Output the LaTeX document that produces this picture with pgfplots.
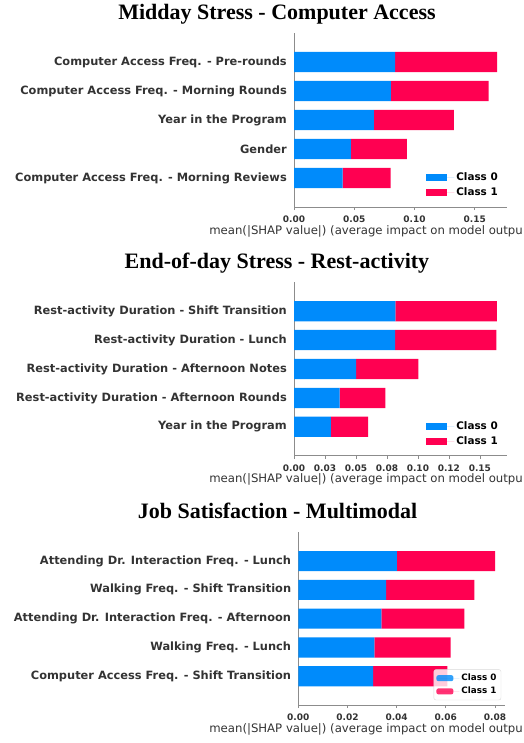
\documentclass[border=0pt]{standalone}
\usepackage{fontspec}
\setmainfont{DejaVu Sans}
\newfontfamily\titlefont{Liberation Serif}
\usepackage{pgfplots}
\pgfplotsset{compat=1.18}
\definecolor{shapblue}{HTML}{008BFB}
\definecolor{shapred}{HTML}{FF0051}
\definecolor{txt}{HTML}{333333}
\definecolor{spine}{HTML}{8C8C8C}

\pgfplotsset{
  shapbar/.style={
    scale only axis, anchor=south west,
    xbar stacked, bar width=0.7,
    ymin=-1, ymax=5, xmin=0,
    ytick={0,...,4},
    scaled x ticks=false,
    axis x line*=bottom, axis y line*=left,
    axis line style={-, draw=spine, line width=0.7pt},
    ytick style={draw=none},
    xtick style={draw=spine, line width=0.7pt},
    tick align=outside, major tick length=3pt,
    yticklabel style={font=\fontsize{11.4}{13}\selectfont\bfseries, text=txt, inner sep=0pt, xshift=-4pt},
    xticklabel style={font=\fontsize{9}{11}\selectfont\bfseries, text=txt, inner sep=0pt, yshift=-5.5pt},
    /pgf/number format/assume math mode=true,
    xlabel={mean(|SHAP value|) (average impact on model outpu},
    xlabel style={font=\fontsize{11.7}{13}\selectfont, text=txt, inner sep=0pt,
      at={(axis description cs:1,0)}, anchor=base east, yshift=-27pt},
    title style={font=\titlefont\bfseries\fontsize{22}{25}\selectfont, inner sep=0pt,
      anchor=base, yshift=8pt},
    legend cell align=left,
    legend image code/.code={\fill[##1] (0pt,-3.5pt) rectangle (21pt,3.5pt);
      \path (0pt,0pt) -- (28pt,0pt);},
    legend style={font=\fontsize{10.4}{12}\selectfont\bfseries, text=black,
      draw=none, fill=none, anchor=south east, inner sep=0pt,
      row sep=1.5pt},
  },
  c0/.style={fill=shapblue, draw=none},
  c1/.style={fill=shapred, draw=none},
}

\begin{document}
\begin{tikzpicture}
\useasboundingbox (0,0) rectangle (523pt,-743pt);

% Midday stress
\begin{axis}[shapbar,
  at={(294pt,-207pt)}, width=213pt, height=174pt,
  xmax=0.1768,
  xtick={0,0.05,0.10,0.15},
  xticklabels={0.00,0.05,0.10,0.15},
  yticklabels={Computer Access Freq. - Morning Reviews, Gender, Year in the Program,
    Computer Access Freq. - Morning Rounds, Computer Access Freq. - Pre-rounds},
  title={Midday Stress - Computer Access},
  title style={at={(axis description cs:-0.0798,1)}},
  xlabel style={xshift=16pt},
  legend style={at={(axis description cs:0.967,0.045)}},
]
\addplot+[c0] coordinates {(0.0403,0) (0.0472,1) (0.0663,2) (0.0804,3) (0.0840,4)};
\addplot+[c1] coordinates {(0.0398,0) (0.0464,1) (0.0663,2) (0.0812,3) (0.0845,4)};
\legend{Class 0, Class 1}
\end{axis}

% End-of-day stress
\begin{axis}[shapbar,
  at={(294pt,-455.7pt)}, width=213pt, height=173.4pt,
  xmax=0.1719,
  xtick={0,0.025,0.05,0.075,0.10,0.125,0.15},
  xticklabels={0.00,0.03,0.05,0.08,0.10,0.12,0.15},
  yticklabels={Year in the Program, Rest-activity Duration - Afternoon Rounds,
    Rest-activity Duration - Afternoon Notes, Rest-activity Duration - Lunch,
    Rest-activity Duration - Shift Transition},
  title={End-of-day Stress - Rest-activity},
  title style={at={(axis description cs:-0.0798,1)}},
  xlabel style={xshift=16pt},
  legend style={at={(axis description cs:0.967,0.045)}},
]
\addplot+[c0] coordinates {(0.0298,0) (0.0368,1) (0.0502,2) (0.0816,3) (0.0819,4)};
\addplot+[c1] coordinates {(0.0301,0) (0.0370,1) (0.0502,2) (0.0817,3) (0.0819,4)};
\legend{Class 0, Class 1}
\end{axis}

% Job satisfaction
\begin{axis}[shapbar,
  at={(298.3pt,-705pt)}, width=207pt, height=172.7pt,
  xmax=0.0842,
  xtick={0,0.02,0.04,0.06,0.08},
  xticklabels={0.00,0.02,0.04,0.06,0.08},
  yticklabels={Computer Access Freq. - Shift Transition, Walking Freq. - Lunch,
    Attending Dr. Interaction Freq. - Afternoon, Walking Freq. - Shift Transition,
    Attending Dr. Interaction Freq. - Lunch},
  title={Job Satisfaction - Multimodal},
  title style={at={(axis description cs:-0.1,1)}},
  xlabel style={xshift=17.7pt},
  legend image code/.code={\fill[#1] (0pt,-3pt) rectangle (17pt,3pt);
    \path (0pt,0pt) -- (23pt,0pt);},
  legend style={at={(axis description cs:0.98,0.028)},
    font=\fontsize{8.8}{10}\selectfont\bfseries,
    draw=black!15, fill=white, fill opacity=0.8, text opacity=1,
    rounded corners=2pt, inner sep=2.5pt, row sep=1pt},
]
\addplot+[c0] coordinates {(0.0304,0) (0.0309,1) (0.0338,2) (0.0357,3) (0.0401,4)};
\addplot+[c1] coordinates {(0.0302,0) (0.0311,1) (0.0337,2) (0.0359,3) (0.0400,4)};
\legend{Class 0, Class 1}
\end{axis}
\end{tikzpicture}
\end{document}
